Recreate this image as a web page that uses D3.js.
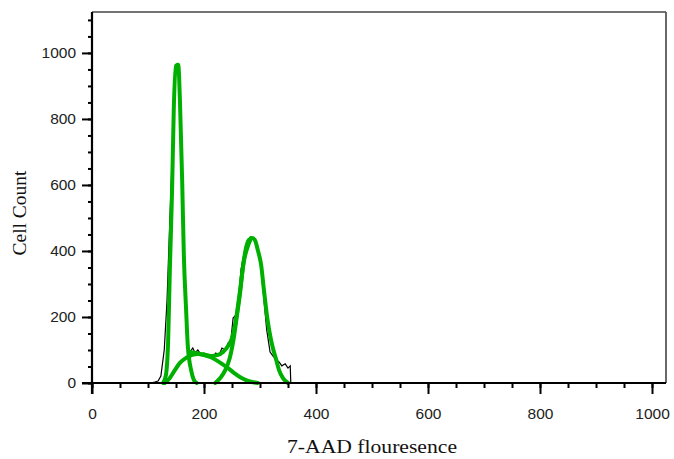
<!DOCTYPE html>
<html><head><meta charset="utf-8">
<script src="https://cdn.jsdelivr.net/npm/d3@7"></script>
<style>body{margin:0;background:#fff}svg{display:block}</style>
</head><body>
<svg id="c" width="674" height="459"></svg>
<script>
// Measured histogram (black): [fluorescence, count]
const histogram = [
 [0,0],[104,0],[112,3],[118,6],[123,21],[129,100],[134,250],[139,494],[143,676],[146,858],
 [150,948],[154,960],[157,858],[161,615],[164,373],[168,191],[171,115],[175,94],[180,106],
 [184,91],[189,100],[195,85],[200,91],[205,82],[211,85],[216,79],[221,91],[227,85],[232,106],
 [238,100],[243,121],[248,130],[252,197],[257,206],[262,252],[266,342],[270,379],[275,388],
 [280,418],[286,439],[291,433],[296,397],[302,348],[307,252],[312,161],[318,94],[323,82],
 [329,70],[334,64],[339,52],[345,58],[350,45],[354,52],[355,0],[1025,0]
];
// Fitted components (green)
const fitG1 = [
 [127,0],[132,24],[136,130],[139,342],[143,585],[146,827],[150,961],[154,964],[157,858],
 [161,615],[164,388],[168,224],[171,115],[177,39],[182,9],[187,0]
];
const fitS = [
 [130,0],[139,15],[148,39],[157,61],[168,76],[179,85],[189,88],[200,85],[211,79],[221,70],
 [232,58],[243,45],[254,30],[264,18],[275,9],[286,3],[296,0]
];
const fitG2 = [
 [220,0],[229,15],[238,39],[246,76],[254,145],[259,206],[264,267],[270,358],[275,409],
 [280,433],[286,439],[291,433],[296,403],[302,358],[307,282],[313,197],[318,145],[323,106],
 [329,70],[334,39],[341,15],[350,0]
];
const fitTotal = [
 [175,94],[184,91],[193,88],[204,85],[214,82],[225,85],[234,94],[243,112],[250,136],
 [257,191],[264,276],[271,367],[279,418],[284,439]
];
const xTicks = [0,200,400,600,800,1000];
const yTicks = [0,200,400,600,800,1000];
const xMinor = d3.range(0, 1001, 50);
const yMinor = d3.range(0, 1101, 50);

const svg = d3.select("#c");
const L = 92, R = 666, T = 12, B = 383;
const x = d3.scaleLinear().domain([0, 1025]).range([L, R]);
const y = d3.scaleLinear().domain([0, 1124]).range([B, T]);

// frame
svg.append("line").attr("x1", L).attr("x2", R).attr("y1", T).attr("y2", T)
  .attr("stroke", "#444").attr("stroke-width", 1.6);
svg.append("line").attr("x1", R).attr("x2", R).attr("y1", T).attr("y2", B)
  .attr("stroke", "#444").attr("stroke-width", 1.6);

const line = d3.line().x(d => x(d[0])).y(d => y(d[1]));

// histogram
svg.append("path").datum(histogram).attr("d", line)
  .attr("fill", "none").attr("stroke", "#000").attr("stroke-width", 1.2);

const green = "#00b000";
[fitS, fitG2, fitTotal, fitG1].forEach(s => {
  svg.append("path").datum(s).attr("d", d3.line().curve(d3.curveMonotoneX).x(d => x(d[0])).y(d => y(d[1])))
    .attr("fill", "none").attr("stroke", green).attr("stroke-width", 4)
    .attr("stroke-linejoin", "round").attr("stroke-linecap", "round");
});

// axes
const font = "'Liberation Sans', Arial, sans-serif";
const yMin = svg.append("g").attr("transform", `translate(${L},0)`)
  .call(d3.axisLeft(y).tickValues(yMinor).tickSize(4).tickFormat(""));
const yMaj = svg.append("g").attr("transform", `translate(${L},0)`)
  .call(d3.axisLeft(y).tickValues(yTicks).tickSize(10).tickPadding(6).tickFormat(d3.format("d")));
const xMin = svg.append("g").attr("transform", `translate(0,${B})`)
  .call(d3.axisBottom(x).tickValues(xMinor).tickSize(5).tickFormat(""));
const xMaj = svg.append("g").attr("transform", `translate(0,${B})`)
  .call(d3.axisBottom(x).tickValues(xTicks).tickSize(11).tickPadding(14).tickFormat(d3.format("d")));
[yMin, yMaj, xMin, xMaj].forEach(g => {
  g.select(".domain").remove();
  g.selectAll(".tick line").attr("stroke", "#000").attr("stroke-width", 2);
  g.selectAll(".tick text").attr("font-family", font).attr("font-size", 15.5).attr("fill", "#222");
});
// axis lines
svg.append("line").attr("x1", L - 10).attr("x2", R).attr("y1", B).attr("y2", B)
  .attr("stroke", "#000").attr("stroke-width", 2.2);
svg.append("line").attr("x1", L).attr("x2", L).attr("y1", T).attr("y2", B + 11)
  .attr("stroke", "#000").attr("stroke-width", 2.2);

// labels
svg.append("text").attr("x", 372).attr("y", 453).attr("text-anchor", "middle")
  .attr("font-family", "'Liberation Serif', 'Times New Roman', serif").attr("font-size", 19.5)
  .attr("textLength", 170).attr("lengthAdjust", "spacingAndGlyphs")
  .attr("fill", "#111").text("7-AAD flouresence");
svg.append("text").attr("transform", "translate(26,213) rotate(-90)").attr("text-anchor", "middle")
  .attr("font-family", "'Liberation Serif', 'Times New Roman', serif").attr("font-size", 19.5)
  .attr("fill", "#111").text("Cell Count");
</script>
</body></html>
